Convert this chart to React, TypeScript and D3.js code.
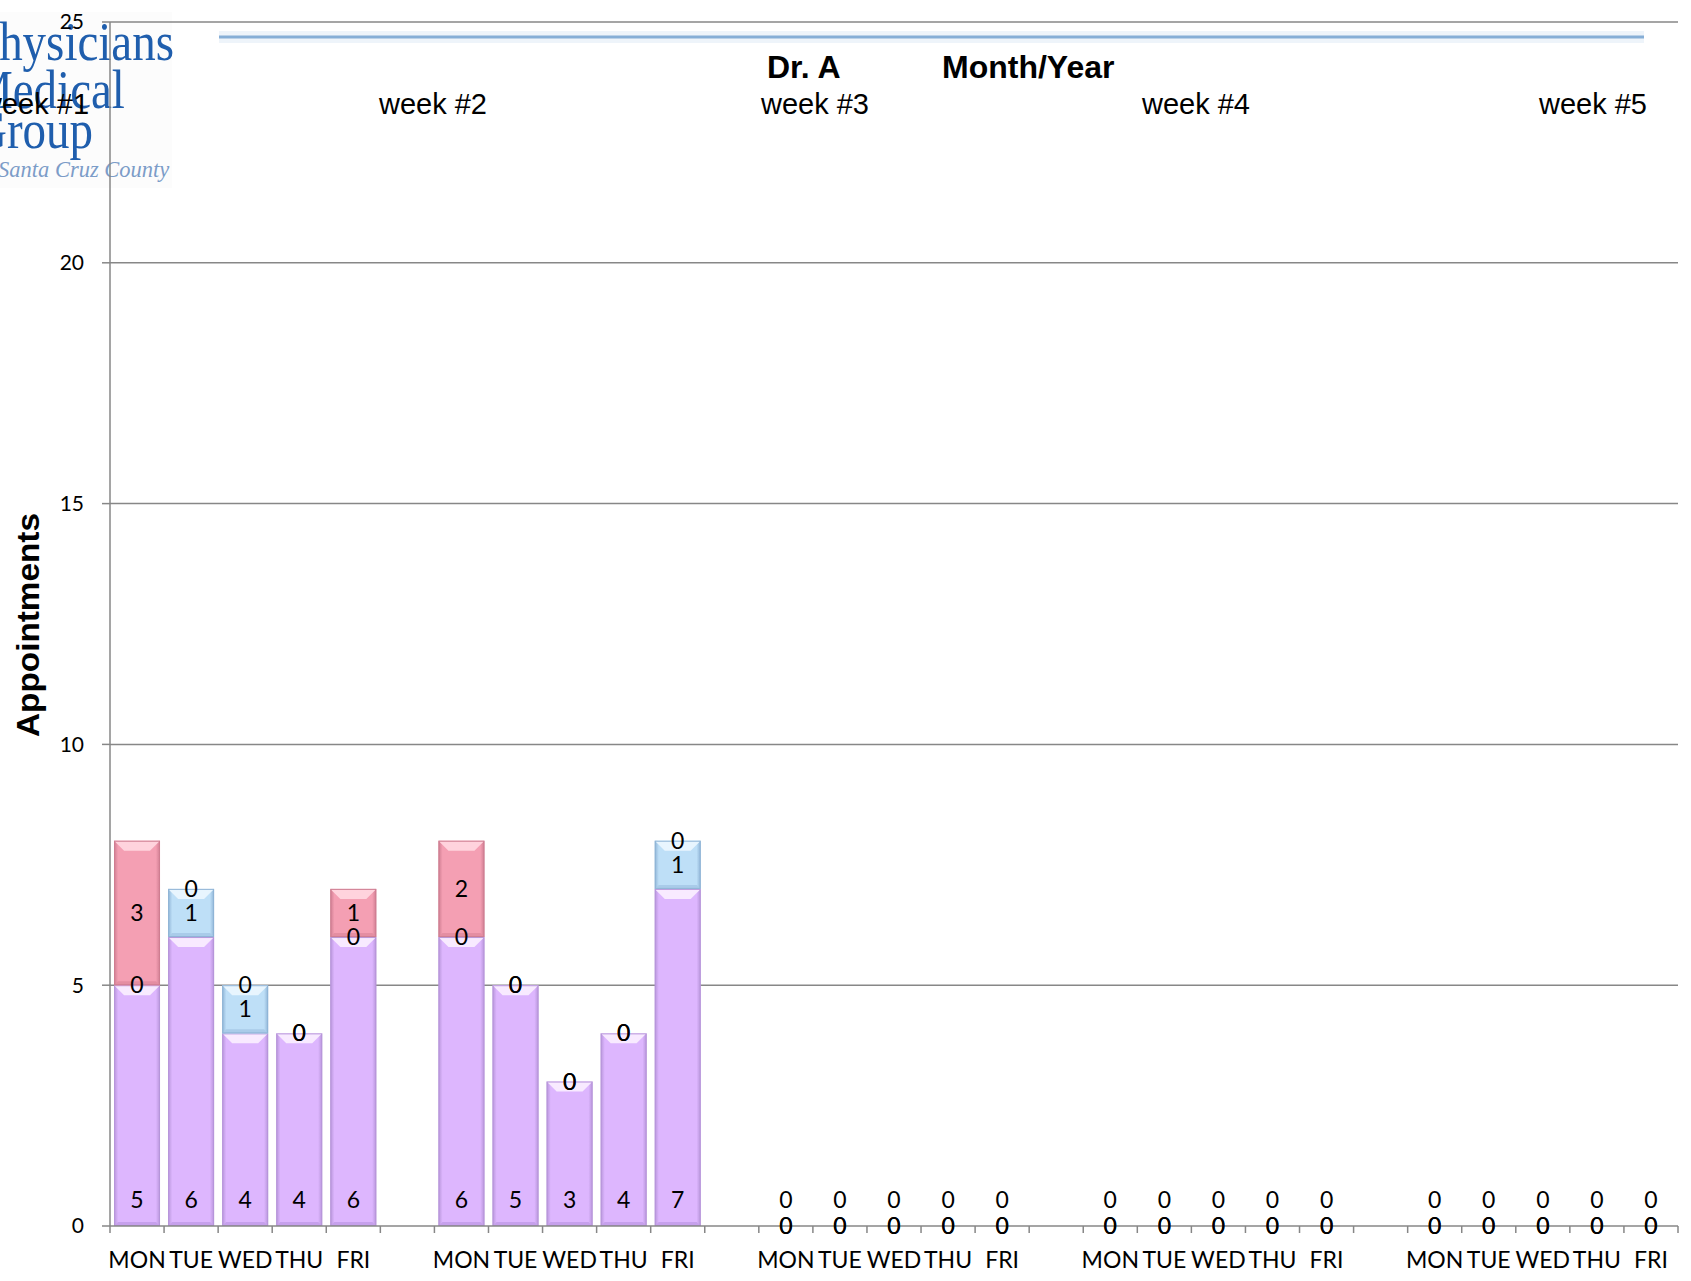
import React from 'react';
import { scaleBand, scaleLinear, range } from 'd3';

const days = ['MON', 'TUE', 'WED', 'THU', 'FRI'];
const weeks = ['week #1', 'week #2', 'week #3', 'week #4', 'week #5'];
// stacked series, bottom to top (one value per day, weeks in order)
const seriesA = [5, 6, 4, 4, 6, 6, 5, 3, 4, 7, 0, 0, 0, 0, 0, 0, 0, 0, 0, 0, 0, 0, 0, 0, 0];
const seriesB = [0, 1, 1, 0, 0, 0, 0, 0, 0, 1, 0, 0, 0, 0, 0, 0, 0, 0, 0, 0, 0, 0, 0, 0, 0];
const seriesC = [3, 0, 0, 0, 1, 2, 0, 0, 0, 0, 0, 0, 0, 0, 0, 0, 0, 0, 0, 0, 0, 0, 0, 0, 0];
const yTicks = [0, 5, 10, 15, 20, 25];

const W = 1691;
const H = 1281;
const plot = { left: 110, right: 1678, top: 22, bottom: 1226 };
const weekLabelX = [35, 433, 815, 1196, 1593];

const styles = [
  { base: '#DDB6FE', edge: '#B795DA', light: '#F8EAFF', dark: '#C6A0EC' },
  { base: '#BEDFF7', edge: '#8FB4D6', light: '#E8F5FE', dark: '#A9CBE9' },
  { base: '#F49FB3', edge: '#CF7D91', light: '#FFD3DD', dark: '#E48EA2' },
];

// categories: 5 days per week, one empty slot between weeks
type Cat = { key: string; label: string; idx: number };
const cats: Cat[] = [];
weeks.forEach((w, wi) => {
  days.forEach((d, di) => cats.push({ key: `${wi}-${d}`, label: d, idx: wi * 5 + di }));
  if (wi < weeks.length - 1) cats.push({ key: `gap${wi}`, label: '', idx: -1 });
});

const x = scaleBand<string>()
  .domain(cats.map(c => c.key))
  .range([plot.left, plot.right])
  .paddingInner(0.15)
  .paddingOuter(0.075);
const y = scaleLinear().domain([0, 25]).range([plot.bottom, plot.top]);

const Segment = ({ x0, y0, w, h, s, id }) => {
  if (h <= 0) return null;
  const b = Math.min(10, h / 2);
  const e = Math.min(4, w / 4);
  return (
    <g>
      <rect x={x0} y={y0} width={w} height={h} fill={`url(#g${id})`} />
      <polygon
        points={`${x0},${y0} ${x0 + w},${y0} ${x0 + w - b},${y0 + b} ${x0 + b},${y0 + b}`}
        fill={s.light}
      />
      <polygon
        points={`${x0},${y0 + h} ${x0 + w},${y0 + h} ${x0 + w - e},${y0 + h - e} ${x0 + e},${y0 + h - e}`}
        fill={s.dark}
      />
      <rect x={x0 + 0.5} y={y0 + 0.5} width={w - 1} height={h - 1} fill="none" stroke={s.edge} strokeWidth={1} />
    </g>
  );
};

const App = () => {
  const bw = x.bandwidth();
  const step = x.step();
  const dayCats = cats.filter(c => c.idx >= 0);

  return (
    <svg
      width={W}
      height={H}
      style={{ position: 'absolute', left: 0, top: 0, background: '#fff' }}
      fontFamily="Lato, sans-serif"
    >
      <defs>
        {styles.map((s, i) => (
          <linearGradient key={i} id={`g${i}`} x1="0" x2="1" y1="0" y2="0">
            <stop offset="0" stopColor={s.edge} />
            <stop offset="0.09" stopColor={s.base} />
            <stop offset="0.91" stopColor={s.base} />
            <stop offset="1" stopColor={s.edge} />
          </linearGradient>
        ))}
      </defs>

      {/* logo */}
      <rect x={0} y={12} width={172} height={176} fill="#FCFCFC" />
      <g fill="#1F5EAD" fontFamily="'Liberation Serif', serif" fontSize={54}>
        <text transform="translate(-27,60) scale(0.87,1)">Physicians</text>
        <text transform="translate(-29,108) scale(0.87,1)">Medical</text>
        <text transform="translate(-27,148) scale(0.87,1)">Group</text>
      </g>
      <text x={-2} y={177} fill="#7C9CC8" fontFamily="'Liberation Serif', serif" fontStyle="italic" fontSize={22.5}>
        Santa Cruz County
      </text>

      {/* header rule */}
      <line x1={219} x2={1644} y1={37} y2={37} stroke="#EEF4FA" strokeWidth={12} />
      <line x1={219} x2={1644} y1={37} y2={37} stroke="#86AED6" strokeWidth={3} />

      {/* gridlines */}
      {yTicks.map(t => (
        <g key={t}>
          {t > 0 && (
            <line x1={plot.left} x2={plot.right} y1={y(t)} y2={y(t)} stroke="#878787" strokeWidth={1.5} />
          )}
          <line x1={plot.left - 8} x2={plot.left} y1={y(t)} y2={y(t)} stroke="#878787" strokeWidth={1.5} />
          <text x={84} y={y(t)} dy="0.35em" textAnchor="end" fontSize={21}>
            {t}
          </text>
        </g>
      ))}

      {/* bars */}
      {dayCats.map(c => {
        const i = c.idx;
        const x0 = x(c.key);
        const vals = [seriesA[i], seriesB[i], seriesC[i]];
        let acc = 0;
        return (
          <g key={c.key}>
            {vals.map((v, si) => {
              const lo = acc;
              acc += v;
              return (
                <Segment key={si} x0={x0} y0={y(acc)} w={bw} h={y(lo) - y(acc)} s={styles[si]} id={si} />
              );
            })}
          </g>
        );
      })}

      {/* axes */}
      <line x1={plot.left} x2={plot.left} y1={plot.top} y2={plot.bottom} stroke="#878787" strokeWidth={1.5} />
      <line x1={plot.left} x2={plot.right} y1={plot.bottom} y2={plot.bottom} stroke="#878787" strokeWidth={1.5} />
      {range(cats.length + 1).map(k => (
        <line
          key={k}
          x1={plot.left + k * step}
          x2={plot.left + k * step}
          y1={plot.bottom}
          y2={plot.bottom + 7}
          stroke="#878787"
          strokeWidth={1.5}
        />
      ))}

      {/* data labels */}
      {dayCats.map(c => {
        const i = c.idx;
        const cx = x(c.key) + bw / 2;
        const a = seriesA[i];
        const b = seriesB[i];
        const cc = seriesC[i];
        return (
          <g key={c.key} fontSize={23} textAnchor="middle">
            <text x={cx} y={plot.bottom - 26} dy="0.35em">{a}</text>
            <text x={cx} y={y(a + b / 2)} dy="0.35em">{b}</text>
            <text x={cx} y={y(a + b + cc / 2)} dy="0.35em">{cc}</text>
          </g>
        );
      })}

      {/* day labels */}
      {dayCats.map(c => (
        <text key={c.key} x={x(c.key) + bw / 2} y={1260} dy="0.35em" textAnchor="middle" fontSize={23}>
          {c.label}
        </text>
      ))}

      {/* y title */}
      <text
        transform="translate(39,625) rotate(-90)"
        textAnchor="middle"
        fontFamily="'Liberation Sans', Arial, sans-serif"
        fontWeight="bold"
        fontSize={31}
        textLength={224}
        lengthAdjust="spacingAndGlyphs"
      >
        Appointments
      </text>

      {/* titles */}
      <g fontFamily="'Liberation Sans', Arial, sans-serif">
        <text x={767} y={78} fontWeight="bold" fontSize={32}>Dr. A</text>
        <text x={942} y={78} fontWeight="bold" fontSize={32}>Month/Year</text>
        {weeks.map((w, i) => (
          <text key={w} x={weekLabelX[i]} y={114} textAnchor="middle" fontSize={29}>
            {w}
          </text>
        ))}
      </g>
    </svg>
  );
};

export default App;
